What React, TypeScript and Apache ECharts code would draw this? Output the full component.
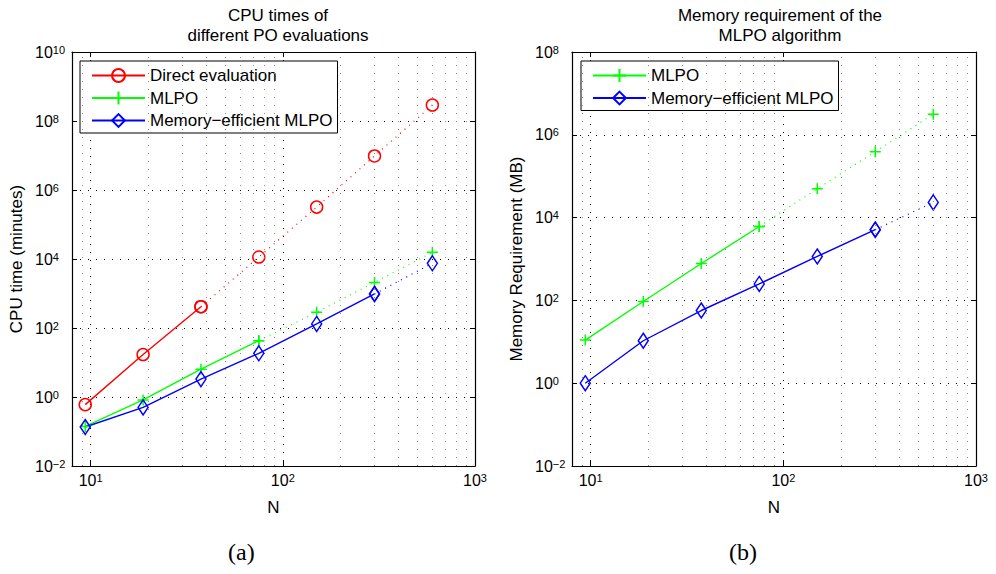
import React, { useEffect, useRef } from 'react';
import * as echarts from 'echarts';

const N = [9.375, 18.75, 37.5, 75, 150, 300, 600];

// (a) CPU times (minutes)
const cpuDirect = [0.6, 17, 414, 11400, 3.2e5, 9.7e6, 2.9e8];
const cpuMLPO = [0.14, 0.82, 6.4, 43, 285, 2100, 15600];
const cpuMemEff = [0.135, 0.5, 3.3, 18.5, 131, 968, 7500];

// (b) Memory requirement (MB)
const memMLPO = [11, 94, 778, 6100, 50000, 3.9e5, 3.15e6];
const memMemEff = [1.0, 10.6, 57, 250, 1150, 5100, 23300];

// number of measured (solid) points; remaining ones are extrapolated (dotted)
const solidDirect = 3;
const solidMLPO = 4;
const solidMemEff = 6;

const minorGridX = [9, 20, 30, 40, 50, 60, 70, 80, 90, 200, 300, 400, 500, 600, 700, 800, 900];

const titleA = 'CPU times of\ndifferent PO evaluations';
const titleB = 'Memory requirement of the\nMLPO algorithm';
const yNameA = 'CPU time (minutes)';
const yNameB = 'Memory Requirement (MB)';
const xName = 'N';
const nameDirect = 'Direct evaluation';
const nameMLPO = 'MLPO';
const nameMemEff = 'Memory\u2212efficient MLPO';

const FONT = '"Liberation Sans", Arial, Helvetica, sans-serif';
const RED = '#ff0000';
const GREEN = '#00ff00';
const BLUE = '#0000ff';
const PLUS = 'path://M5,0L5,10M0,5L10,5';

const pairs = (ys: number[], from: number, to: number) =>
  N.slice(from, to).map((x, i) => [x, ys[from + i]]);

const powLabel = (v: number) => {
  const e = Math.log10(v);
  const r = Math.round(e);
  if (Math.abs(e - r) > 1e-6) return '';
  return `{b|10}{s|${r < 0 ? '\u2212' + -r : r}}`;
};

const rich = {
  b: { fontSize: 16, lineHeight: 16, padding: [5, 0, 5, 0], fontFamily: FONT, color: '#000' },
  s: { fontSize: 11, lineHeight: 11, verticalAlign: 'top', fontFamily: FONT, color: '#000' },
};

function mkSeries(
  name: string,
  ys: number[],
  solid: number,
  color: string,
  symbol: string,
  symbolSize: any,
  g: number
) {
  const axes = { xAxisIndex: g * 2, yAxisIndex: g * 2 };
  const itemStyle = { color: 'rgba(255,255,255,0)', borderColor: color, borderWidth: 1.5 };
  return [
    {
      type: 'line',
      name,
      ...axes,
      data: pairs(ys, 0, solid),
      symbol,
      symbolSize,
      showSymbol: true,
      itemStyle,
      lineStyle: { color, width: 1.4 },
      z: 5,
      silent: true,
    },
    {
      type: 'line',
      name,
      ...axes,
      data: pairs(ys, solid - 1, N.length),
      symbol,
      symbolSize,
      showSymbol: true,
      itemStyle,
      lineStyle: { color, width: 1.2, type: [1, 5] },
      z: 4,
      silent: true,
    },
  ];
}

function gridHelper(g: number) {
  return {
    type: 'line',
    xAxisIndex: g * 2,
    yAxisIndex: g * 2,
    data: [[10, 1]],
    symbol: 'none',
    lineStyle: { width: 0, opacity: 0 },
    silent: true,
    z: 1,
    markLine: {
      silent: true,
      symbol: ['none', 'none'],
      label: { show: false },
      lineStyle: { color: '#8a8a8a', type: [1, 7], width: 1 },
      data: minorGridX.map((v) => ({ xAxis: v })),
    },
  };
}

function xAxes(g: number) {
  const common = {
    type: 'log',
    logBase: 10,
    min: 8,
    max: 1000,
    gridIndex: g,
  };
  return [
    {
      ...common,
      position: 'bottom',
      axisLine: { show: true, onZero: false, lineStyle: { color: '#000', width: 1.2 } },
      axisTick: { show: true, inside: true, length: 5, lineStyle: { color: '#000' } },
      axisLabel: { formatter: powLabel, margin: 6, rich, color: '#000' },
      splitLine: { show: true, lineStyle: { color: '#000', type: [1, 7], width: 1 } },
      name: xName,
      nameLocation: 'middle',
      nameGap: 33,
      nameTextStyle: { fontSize: 17, color: '#000', fontFamily: FONT },
    },
    {
      ...common,
      position: 'top',
      axisLine: { show: true, onZero: false, lineStyle: { color: '#000', width: 1.2 } },
      axisTick: { show: true, inside: true, length: 5, lineStyle: { color: '#000' } },
      axisLabel: { show: false },
      splitLine: { show: false },
    },
  ];
}

function yAxes(g: number, max: number, name: string) {
  const common = {
    type: 'log',
    logBase: 10,
    min: 0.01,
    max,
    interval: 2,
    gridIndex: g,
  };
  return [
    {
      ...common,
      position: 'left',
      axisLine: { show: true, onZero: false, lineStyle: { color: '#000', width: 1.2 } },
      axisTick: { show: true, inside: true, length: 5, lineStyle: { color: '#000' } },
      axisLabel: { formatter: powLabel, margin: 37, align: 'left', rich, color: '#000' },
      splitLine: { show: true, lineStyle: { color: '#000', type: [1, 7], width: 1 } },
      name,
      nameLocation: 'middle',
      nameGap: 47,
      nameTextStyle: { fontSize: 17, color: '#000', fontFamily: FONT },
    },
    {
      ...common,
      position: 'right',
      axisLine: { show: true, onZero: false, lineStyle: { color: '#000', width: 1.2 } },
      axisTick: { show: true, inside: true, length: 5, lineStyle: { color: '#000' } },
      axisLabel: { show: false },
      splitLine: { show: false },
    },
  ];
}

const legendCommon = {
  orient: 'vertical',
  top: 61,
  borderColor: '#000',
  borderWidth: 1,
  backgroundColor: '#fff',
  itemWidth: 53,
  itemHeight: 16,
  itemGap: 5.5,
  textStyle: { fontSize: 17, lineHeight: 16, color: '#000', fontFamily: FONT },
  selectedMode: false,
  inactiveColor: '#000',
};

export default function App() {
  const ref = useRef<HTMLDivElement>(null);
  useEffect(() => {
    if (!ref.current) return;
    const chart = echarts.init(ref.current, null, { renderer: 'svg' });
    chart.setOption({
      animation: false,
      backgroundColor: '#fff',
      title: [
        {
          text: titleA,
          left: 273,
          top: 0,
          textAlign: 'center',
          textStyle: { fontSize: 17, lineHeight: 20, fontWeight: 'normal', color: '#000', fontFamily: FONT },
        },
        {
          text: titleB,
          left: 775,
          top: 0,
          textAlign: 'center',
          textStyle: { fontSize: 17, lineHeight: 20, fontWeight: 'normal', color: '#000', fontFamily: FONT },
        },
      ],
      legend: [
        { ...legendCommon, left: 80, padding: [6, 5, 4, 11], data: [nameDirect, nameMLPO, nameMemEff] },
        { ...legendCommon, left: 581, padding: [6, 5, 4, 11], data: [nameMLPO, nameMemEff] },
      ],
      grid: [
        { left: 72, right: 521, top: 52, bottom: 108, containLabel: false },
        { left: 572, right: 20, top: 52, bottom: 108, containLabel: false },
      ],
      xAxis: [...xAxes(0), ...xAxes(1)],
      yAxis: [...yAxes(0, 1e10, yNameA), ...yAxes(1, 1e8, yNameB)],
      graphic: [
        {
          type: 'text',
          left: 244 - 16,
          top: 540,
          style: { text: '(a)', fontSize: 24, fontFamily: '"Liberation Serif", "DejaVu Serif", serif', fill: '#000' },
        },
        {
          type: 'text',
          left: 745 - 16,
          top: 540,
          style: { text: '(b)', fontSize: 24, fontFamily: '"Liberation Serif", "DejaVu Serif", serif', fill: '#000' },
        },
      ],
      series: [
        gridHelper(0),
        gridHelper(1),
        ...mkSeries(nameDirect, cpuDirect, solidDirect, RED, 'circle', 12, 0),
        ...mkSeries(nameMLPO, cpuMLPO, solidMLPO, GREEN, PLUS, 11, 0),
        ...mkSeries(nameMemEff, cpuMemEff, solidMemEff, BLUE, 'diamond', [10, 15], 0),
        ...mkSeries(nameMLPO, memMLPO, solidMLPO, GREEN, PLUS, 11, 1),
        ...mkSeries(nameMemEff, memMemEff, solidMemEff, BLUE, 'diamond', [10, 15], 1),
      ],
    });
    return () => chart.dispose();
  }, []);
  return (
    <div
      ref={ref}
      style={{ position: 'fixed', left: 0, top: 0, width: 996, height: 574, background: '#fff' }}
    />
  );
}
